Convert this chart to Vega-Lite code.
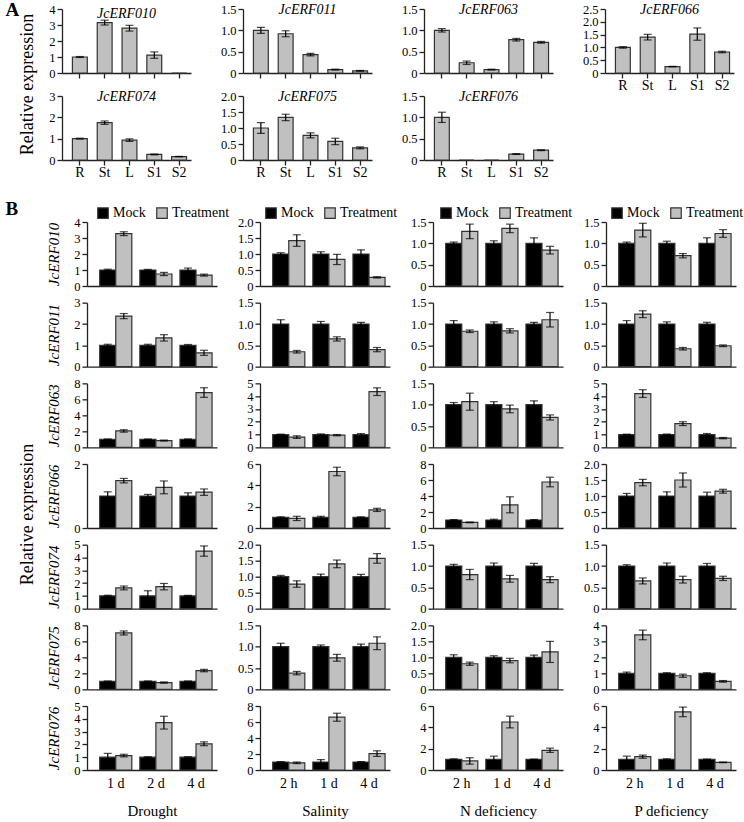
{
"$schema":"https://vega.github.io/schema/vega-lite/v6.json",
"padding":{"left":5,"top":0,"right":0,"bottom":0},
"config":{
 "view":{"stroke":null},
 "font":"Liberation Serif",
 "range":{"category":["#000000","#c0c0c0"]},
 "title":{"font":"Liberation Serif","fontSize":14,"fontStyle":"italic","fontWeight":"normal","offset":-14,"frame":"group","anchor":"middle","color":"#000"},
 "axis":{"labelFont":"Liberation Serif","titleFont":"Liberation Serif","labelColor":"#000","titleColor":"#000","titleFontWeight":"normal","domainColor":"#222","tickColor":"#222","domainWidth":1.3,"tickWidth":1.3,"grid":false,"tickSize":5},
 "axisY":{"labelFontSize":12.5,"labelPadding":2,"labelOverlap":false,"labelFlush":false},
 "axisX":{"labelFontSize":14,"labelAngle":0,"labelPadding":0},
 "legend":{"orient":"none","direction":"horizontal","symbolType":"square","symbolSize":110,"labelFont":"Liberation Serif","labelFontSize":14,"labelColor":"#000","symbolStrokeColor":"#333","symbolStrokeWidth":1.2,"columnPadding":8,"labelOffset":3,"symbolOpacity":1}
},
"datasets":{
"tis":[
{"g":"JcERF010","p":"R","v":1,"e":0.03},{"g":"JcERF010","p":"St","v":3.15,"e":0.15},{"g":"JcERF010","p":"L","v":2.8,"e":0.18},{"g":"JcERF010","p":"S1","v":1.12,"e":0.2},{"g":"JcERF010","p":"S2","v":0,"e":0},
{"g":"JcERF011","p":"R","v":1,"e":0.07},{"g":"JcERF011","p":"St","v":0.92,"e":0.07},{"g":"JcERF011","p":"L","v":0.43,"e":0.03},{"g":"JcERF011","p":"S1","v":0.08,"e":0.01},{"g":"JcERF011","p":"S2","v":0.05,"e":0.01},
{"g":"JcERF063","p":"R","v":1,"e":0.04},{"g":"JcERF063","p":"St","v":0.24,"e":0.04},{"g":"JcERF063","p":"L","v":0.08,"e":0.01},{"g":"JcERF063","p":"S1","v":0.78,"e":0.03},{"g":"JcERF063","p":"S2","v":0.72,"e":0.02},
{"g":"JcERF066","p":"R","v":1,"e":0.03},{"g":"JcERF066","p":"St","v":1.4,"e":0.11},{"g":"JcERF066","p":"L","v":0.25,"e":0.01},{"g":"JcERF066","p":"S1","v":1.52,"e":0.24},{"g":"JcERF066","p":"S2","v":0.82,"e":0.03},
{"g":"JcERF074","p":"R","v":1,"e":0.02},{"g":"JcERF074","p":"St","v":1.75,"e":0.08},{"g":"JcERF074","p":"L","v":0.93,"e":0.06},{"g":"JcERF074","p":"S1","v":0.26,"e":0.02},{"g":"JcERF074","p":"S2","v":0.16,"e":0.01},
{"g":"JcERF075","p":"R","v":1,"e":0.17},{"g":"JcERF075","p":"St","v":1.33,"e":0.1},{"g":"JcERF075","p":"L","v":0.77,"e":0.08},{"g":"JcERF075","p":"S1","v":0.58,"e":0.1},{"g":"JcERF075","p":"S2","v":0.38,"e":0.03},
{"g":"JcERF076","p":"R","v":1,"e":0.12},{"g":"JcERF076","p":"St","v":0,"e":0},{"g":"JcERF076","p":"L","v":0,"e":0},{"g":"JcERF076","p":"S1","v":0.14,"e":0.01},{"g":"JcERF076","p":"S2","v":0.23,"e":0.01}
],
"str":[
{"g":"JcERF010","s":"Drought","t":"1 d","c":"Mock","v":1,"e":0.05},{"g":"JcERF010","s":"Drought","t":"2 d","c":"Mock","v":1,"e":0.04},{"g":"JcERF010","s":"Drought","t":"4 d","c":"Mock","v":1,"e":0.12},
{"g":"JcERF010","s":"Drought","t":"1 d","c":"Treatment","v":3.27,"e":0.12},{"g":"JcERF010","s":"Drought","t":"2 d","c":"Treatment","v":0.75,"e":0.1},{"g":"JcERF010","s":"Drought","t":"4 d","c":"Treatment","v":0.68,"e":0.06},
{"g":"JcERF010","s":"Salinity","t":"2 h","c":"Mock","v":1,"e":0.04},{"g":"JcERF010","s":"Salinity","t":"1 d","c":"Mock","v":1,"e":0.07},{"g":"JcERF010","s":"Salinity","t":"4 d","c":"Mock","v":1,"e":0.13},
{"g":"JcERF010","s":"Salinity","t":"2 h","c":"Treatment","v":1.42,"e":0.18},{"g":"JcERF010","s":"Salinity","t":"1 d","c":"Treatment","v":0.83,"e":0.16},{"g":"JcERF010","s":"Salinity","t":"4 d","c":"Treatment","v":0.27,"e":0.02},
{"g":"JcERF010","s":"N deficiency","t":"2 h","c":"Mock","v":1,"e":0.03},{"g":"JcERF010","s":"N deficiency","t":"1 d","c":"Mock","v":1,"e":0.06},{"g":"JcERF010","s":"N deficiency","t":"4 d","c":"Mock","v":1,"e":0.13},
{"g":"JcERF010","s":"N deficiency","t":"2 h","c":"Treatment","v":1.28,"e":0.17},{"g":"JcERF010","s":"N deficiency","t":"1 d","c":"Treatment","v":1.35,"e":0.1},{"g":"JcERF010","s":"N deficiency","t":"4 d","c":"Treatment","v":0.84,"e":0.09},
{"g":"JcERF010","s":"P deficiency","t":"2 h","c":"Mock","v":1,"e":0.03},{"g":"JcERF010","s":"P deficiency","t":"1 d","c":"Mock","v":1,"e":0.05},{"g":"JcERF010","s":"P deficiency","t":"4 d","c":"Mock","v":1,"e":0.13},
{"g":"JcERF010","s":"P deficiency","t":"2 h","c":"Treatment","v":1.31,"e":0.16},{"g":"JcERF010","s":"P deficiency","t":"1 d","c":"Treatment","v":0.71,"e":0.05},{"g":"JcERF010","s":"P deficiency","t":"4 d","c":"Treatment","v":1.23,"e":0.09},
{"g":"JcERF011","s":"Drought","t":"1 d","c":"Mock","v":1,"e":0.05},{"g":"JcERF011","s":"Drought","t":"2 d","c":"Mock","v":1,"e":0.05},{"g":"JcERF011","s":"Drought","t":"4 d","c":"Mock","v":1,"e":0.04},
{"g":"JcERF011","s":"Drought","t":"1 d","c":"Treatment","v":2.37,"e":0.12},{"g":"JcERF011","s":"Drought","t":"2 d","c":"Treatment","v":1.35,"e":0.15},{"g":"JcERF011","s":"Drought","t":"4 d","c":"Treatment","v":0.65,"e":0.12},
{"g":"JcERF011","s":"Salinity","t":"2 h","c":"Mock","v":1,"e":0.1},{"g":"JcERF011","s":"Salinity","t":"1 d","c":"Mock","v":1,"e":0.06},{"g":"JcERF011","s":"Salinity","t":"4 d","c":"Mock","v":1,"e":0.04},
{"g":"JcERF011","s":"Salinity","t":"2 h","c":"Treatment","v":0.35,"e":0.03},{"g":"JcERF011","s":"Salinity","t":"1 d","c":"Treatment","v":0.65,"e":0.05},{"g":"JcERF011","s":"Salinity","t":"4 d","c":"Treatment","v":0.4,"e":0.05},
{"g":"JcERF011","s":"N deficiency","t":"2 h","c":"Mock","v":1,"e":0.08},{"g":"JcERF011","s":"N deficiency","t":"1 d","c":"Mock","v":1,"e":0.05},{"g":"JcERF011","s":"N deficiency","t":"4 d","c":"Mock","v":1,"e":0.04},
{"g":"JcERF011","s":"N deficiency","t":"2 h","c":"Treatment","v":0.83,"e":0.03},{"g":"JcERF011","s":"N deficiency","t":"1 d","c":"Treatment","v":0.84,"e":0.05},{"g":"JcERF011","s":"N deficiency","t":"4 d","c":"Treatment","v":1.1,"e":0.17},
{"g":"JcERF011","s":"P deficiency","t":"2 h","c":"Mock","v":1,"e":0.08},{"g":"JcERF011","s":"P deficiency","t":"1 d","c":"Mock","v":1,"e":0.05},{"g":"JcERF011","s":"P deficiency","t":"4 d","c":"Mock","v":1,"e":0.04},
{"g":"JcERF011","s":"P deficiency","t":"2 h","c":"Treatment","v":1.23,"e":0.08},{"g":"JcERF011","s":"P deficiency","t":"1 d","c":"Treatment","v":0.42,"e":0.03},{"g":"JcERF011","s":"P deficiency","t":"4 d","c":"Treatment","v":0.49,"e":0.02},
{"g":"JcERF063","s":"Drought","t":"1 d","c":"Mock","v":1,"e":0.05},{"g":"JcERF063","s":"Drought","t":"2 d","c":"Mock","v":1,"e":0.04},{"g":"JcERF063","s":"Drought","t":"4 d","c":"Mock","v":1,"e":0.05},
{"g":"JcERF063","s":"Drought","t":"1 d","c":"Treatment","v":2.05,"e":0.15},{"g":"JcERF063","s":"Drought","t":"2 d","c":"Treatment","v":0.85,"e":0.06},{"g":"JcERF063","s":"Drought","t":"4 d","c":"Treatment","v":6.85,"e":0.6},
{"g":"JcERF063","s":"Salinity","t":"2 h","c":"Mock","v":1,"e":0.03},{"g":"JcERF063","s":"Salinity","t":"1 d","c":"Mock","v":1,"e":0.05},{"g":"JcERF063","s":"Salinity","t":"4 d","c":"Mock","v":1,"e":0.08},
{"g":"JcERF063","s":"Salinity","t":"2 h","c":"Treatment","v":0.8,"e":0.1},{"g":"JcERF063","s":"Salinity","t":"1 d","c":"Treatment","v":0.95,"e":0.05},{"g":"JcERF063","s":"Salinity","t":"4 d","c":"Treatment","v":4.35,"e":0.3},
{"g":"JcERF063","s":"N deficiency","t":"2 h","c":"Mock","v":1,"e":0.05},{"g":"JcERF063","s":"N deficiency","t":"1 d","c":"Mock","v":1,"e":0.07},{"g":"JcERF063","s":"N deficiency","t":"4 d","c":"Mock","v":1,"e":0.09},
{"g":"JcERF063","s":"N deficiency","t":"2 h","c":"Treatment","v":1.07,"e":0.2},{"g":"JcERF063","s":"N deficiency","t":"1 d","c":"Treatment","v":0.9,"e":0.09},{"g":"JcERF063","s":"N deficiency","t":"4 d","c":"Treatment","v":0.7,"e":0.06},
{"g":"JcERF063","s":"P deficiency","t":"2 h","c":"Mock","v":1,"e":0.03},{"g":"JcERF063","s":"P deficiency","t":"1 d","c":"Mock","v":1,"e":0.04},{"g":"JcERF063","s":"P deficiency","t":"4 d","c":"Mock","v":1,"e":0.08},
{"g":"JcERF063","s":"P deficiency","t":"2 h","c":"Treatment","v":4.2,"e":0.3},{"g":"JcERF063","s":"P deficiency","t":"1 d","c":"Treatment","v":1.85,"e":0.15},{"g":"JcERF063","s":"P deficiency","t":"4 d","c":"Treatment","v":0.72,"e":0.05},
{"g":"JcERF066","s":"Drought","t":"1 d","c":"Mock","v":1,"e":0.13},{"g":"JcERF066","s":"Drought","t":"2 d","c":"Mock","v":1,"e":0.05},{"g":"JcERF066","s":"Drought","t":"4 d","c":"Mock","v":1,"e":0.1},
{"g":"JcERF066","s":"Drought","t":"1 d","c":"Treatment","v":1.48,"e":0.07},{"g":"JcERF066","s":"Drought","t":"2 d","c":"Treatment","v":1.27,"e":0.2},{"g":"JcERF066","s":"Drought","t":"4 d","c":"Treatment","v":1.12,"e":0.1},
{"g":"JcERF066","s":"Salinity","t":"2 h","c":"Mock","v":1,"e":0.05},{"g":"JcERF066","s":"Salinity","t":"1 d","c":"Mock","v":1,"e":0.1},{"g":"JcERF066","s":"Salinity","t":"4 d","c":"Mock","v":1,"e":0.05},
{"g":"JcERF066","s":"Salinity","t":"2 h","c":"Treatment","v":0.9,"e":0.2},{"g":"JcERF066","s":"Salinity","t":"1 d","c":"Treatment","v":5.3,"e":0.4},{"g":"JcERF066","s":"Salinity","t":"4 d","c":"Treatment","v":1.7,"e":0.15},
{"g":"JcERF066","s":"N deficiency","t":"2 h","c":"Mock","v":1,"e":0.05},{"g":"JcERF066","s":"N deficiency","t":"1 d","c":"Mock","v":1,"e":0.1},{"g":"JcERF066","s":"N deficiency","t":"4 d","c":"Mock","v":1,"e":0.05},
{"g":"JcERF066","s":"N deficiency","t":"2 h","c":"Treatment","v":0.7,"e":0.05},{"g":"JcERF066","s":"N deficiency","t":"1 d","c":"Treatment","v":2.9,"e":1.0},{"g":"JcERF066","s":"N deficiency","t":"4 d","c":"Treatment","v":5.75,"e":0.6},
{"g":"JcERF066","s":"P deficiency","t":"2 h","c":"Mock","v":1,"e":0.08},{"g":"JcERF066","s":"P deficiency","t":"1 d","c":"Mock","v":1,"e":0.13},{"g":"JcERF066","s":"P deficiency","t":"4 d","c":"Mock","v":1,"e":0.12},
{"g":"JcERF066","s":"P deficiency","t":"2 h","c":"Treatment","v":1.42,"e":0.1},{"g":"JcERF066","s":"P deficiency","t":"1 d","c":"Treatment","v":1.5,"e":0.22},{"g":"JcERF066","s":"P deficiency","t":"4 d","c":"Treatment","v":1.15,"e":0.06},
{"g":"JcERF074","s":"Drought","t":"1 d","c":"Mock","v":1,"e":0.05},{"g":"JcERF074","s":"Drought","t":"2 d","c":"Mock","v":1,"e":0.4},{"g":"JcERF074","s":"Drought","t":"4 d","c":"Mock","v":1,"e":0.04},
{"g":"JcERF074","s":"Drought","t":"1 d","c":"Treatment","v":1.62,"e":0.15},{"g":"JcERF074","s":"Drought","t":"2 d","c":"Treatment","v":1.72,"e":0.25},{"g":"JcERF074","s":"Drought","t":"4 d","c":"Treatment","v":4.5,"e":0.4},
{"g":"JcERF074","s":"Salinity","t":"2 h","c":"Mock","v":1,"e":0.04},{"g":"JcERF074","s":"Salinity","t":"1 d","c":"Mock","v":1,"e":0.08},{"g":"JcERF074","s":"Salinity","t":"4 d","c":"Mock","v":1,"e":0.07},
{"g":"JcERF074","s":"Salinity","t":"2 h","c":"Treatment","v":0.77,"e":0.1},{"g":"JcERF074","s":"Salinity","t":"1 d","c":"Treatment","v":1.4,"e":0.12},{"g":"JcERF074","s":"Salinity","t":"4 d","c":"Treatment","v":1.57,"e":0.15},
{"g":"JcERF074","s":"N deficiency","t":"2 h","c":"Mock","v":1,"e":0.04},{"g":"JcERF074","s":"N deficiency","t":"1 d","c":"Mock","v":1,"e":0.07},{"g":"JcERF074","s":"N deficiency","t":"4 d","c":"Mock","v":1,"e":0.06},
{"g":"JcERF074","s":"N deficiency","t":"2 h","c":"Treatment","v":0.8,"e":0.12},{"g":"JcERF074","s":"N deficiency","t":"1 d","c":"Treatment","v":0.7,"e":0.08},{"g":"JcERF074","s":"N deficiency","t":"4 d","c":"Treatment","v":0.68,"e":0.07},
{"g":"JcERF074","s":"P deficiency","t":"2 h","c":"Mock","v":1,"e":0.03},{"g":"JcERF074","s":"P deficiency","t":"1 d","c":"Mock","v":1,"e":0.07},{"g":"JcERF074","s":"P deficiency","t":"4 d","c":"Mock","v":1,"e":0.06},
{"g":"JcERF074","s":"P deficiency","t":"2 h","c":"Treatment","v":0.65,"e":0.07},{"g":"JcERF074","s":"P deficiency","t":"1 d","c":"Treatment","v":0.68,"e":0.08},{"g":"JcERF074","s":"P deficiency","t":"4 d","c":"Treatment","v":0.71,"e":0.05},
{"g":"JcERF075","s":"Drought","t":"1 d","c":"Mock","v":1,"e":0.05},{"g":"JcERF075","s":"Drought","t":"2 d","c":"Mock","v":1,"e":0.05},{"g":"JcERF075","s":"Drought","t":"4 d","c":"Mock","v":1,"e":0.05},
{"g":"JcERF075","s":"Drought","t":"1 d","c":"Treatment","v":7.05,"e":0.25},{"g":"JcERF075","s":"Drought","t":"2 d","c":"Treatment","v":0.85,"e":0.08},{"g":"JcERF075","s":"Drought","t":"4 d","c":"Treatment","v":2.35,"e":0.15},
{"g":"JcERF075","s":"Salinity","t":"2 h","c":"Mock","v":1,"e":0.08},{"g":"JcERF075","s":"Salinity","t":"1 d","c":"Mock","v":1,"e":0.04},{"g":"JcERF075","s":"Salinity","t":"4 d","c":"Mock","v":1,"e":0.06},
{"g":"JcERF075","s":"Salinity","t":"2 h","c":"Treatment","v":0.38,"e":0.04},{"g":"JcERF075","s":"Salinity","t":"1 d","c":"Treatment","v":0.74,"e":0.08},{"g":"JcERF075","s":"Salinity","t":"4 d","c":"Treatment","v":1.08,"e":0.15},
{"g":"JcERF075","s":"N deficiency","t":"2 h","c":"Mock","v":1,"e":0.08},{"g":"JcERF075","s":"N deficiency","t":"1 d","c":"Mock","v":1,"e":0.05},{"g":"JcERF075","s":"N deficiency","t":"4 d","c":"Mock","v":1,"e":0.07},
{"g":"JcERF075","s":"N deficiency","t":"2 h","c":"Treatment","v":0.8,"e":0.05},{"g":"JcERF075","s":"N deficiency","t":"1 d","c":"Treatment","v":0.9,"e":0.07},{"g":"JcERF075","s":"N deficiency","t":"4 d","c":"Treatment","v":1.17,"e":0.33},
{"g":"JcERF075","s":"P deficiency","t":"2 h","c":"Mock","v":1,"e":0.08},{"g":"JcERF075","s":"P deficiency","t":"1 d","c":"Mock","v":1,"e":0.04},{"g":"JcERF075","s":"P deficiency","t":"4 d","c":"Mock","v":1,"e":0.04},
{"g":"JcERF075","s":"P deficiency","t":"2 h","c":"Treatment","v":3.4,"e":0.3},{"g":"JcERF075","s":"P deficiency","t":"1 d","c":"Treatment","v":0.85,"e":0.1},{"g":"JcERF075","s":"P deficiency","t":"4 d","c":"Treatment","v":0.5,"e":0.05},
{"g":"JcERF076","s":"Drought","t":"1 d","c":"Mock","v":1,"e":0.3},{"g":"JcERF076","s":"Drought","t":"2 d","c":"Mock","v":1,"e":0.04},{"g":"JcERF076","s":"Drought","t":"4 d","c":"Mock","v":1,"e":0.04},
{"g":"JcERF076","s":"Drought","t":"1 d","c":"Treatment","v":1.13,"e":0.1},{"g":"JcERF076","s":"Drought","t":"2 d","c":"Treatment","v":3.7,"e":0.5},{"g":"JcERF076","s":"Drought","t":"4 d","c":"Treatment","v":2.05,"e":0.15},
{"g":"JcERF076","s":"Salinity","t":"2 h","c":"Mock","v":1,"e":0.05},{"g":"JcERF076","s":"Salinity","t":"1 d","c":"Mock","v":1,"e":0.3},{"g":"JcERF076","s":"Salinity","t":"4 d","c":"Mock","v":1,"e":0.05},
{"g":"JcERF076","s":"Salinity","t":"2 h","c":"Treatment","v":0.9,"e":0.1},{"g":"JcERF076","s":"Salinity","t":"1 d","c":"Treatment","v":6.6,"e":0.5},{"g":"JcERF076","s":"Salinity","t":"4 d","c":"Treatment","v":2.05,"e":0.35},
{"g":"JcERF076","s":"N deficiency","t":"2 h","c":"Mock","v":1,"e":0.05},{"g":"JcERF076","s":"N deficiency","t":"1 d","c":"Mock","v":1,"e":0.3},{"g":"JcERF076","s":"N deficiency","t":"4 d","c":"Mock","v":1,"e":0.03},
{"g":"JcERF076","s":"N deficiency","t":"2 h","c":"Treatment","v":0.85,"e":0.3},{"g":"JcERF076","s":"N deficiency","t":"1 d","c":"Treatment","v":4.5,"e":0.55},{"g":"JcERF076","s":"N deficiency","t":"4 d","c":"Treatment","v":1.85,"e":0.2},
{"g":"JcERF076","s":"P deficiency","t":"2 h","c":"Mock","v":1,"e":0.3},{"g":"JcERF076","s":"P deficiency","t":"1 d","c":"Mock","v":1,"e":0.05},{"g":"JcERF076","s":"P deficiency","t":"4 d","c":"Mock","v":1,"e":0.03},
{"g":"JcERF076","s":"P deficiency","t":"2 h","c":"Treatment","v":1.25,"e":0.15},{"g":"JcERF076","s":"P deficiency","t":"1 d","c":"Treatment","v":5.45,"e":0.45},{"g":"JcERF076","s":"P deficiency","t":"4 d","c":"Treatment","v":0.72,"e":0.03}
]
},
"columns":1,
"spacing":20,
"concat":[
{"columns":4,"spacing":{"row":23,"column":52},"bounds":"flush","concat":[
  {"width":129,"height":64,"data":{"name":"tis"},"title":{"text":"JcERF010","offset":-21},"transform":[{"filter":"datum.g=='JcERF010'"}],
   "encoding":{"x":{"field":"p","type":"nominal","sort":["R","St","L","S1","S2"],"scale":{"paddingInner":0.4,"paddingOuter":0.3,"align":0.7},"axis":{"labels":false,"title":"A","titleX":-57,"titleY":-64,"titleAlign":"left","titleBaseline":"middle","titleAngle":0,"titleFontSize":19,"titleFontWeight":"bold"}},
   "y":{"field":"v","type":"quantitative","scale":{"domain":[0,4],"nice":false},"axis":{"values":[0,1,2,3,4],"format":"d","title":"Relative expression","titleX":-35,"titleY":75,"titleAngle":270,"titleAlign":"center","titleBaseline":"middle","titleFontSize":18}}},
   "layer":[{"mark":{"type":"bar","fill":"#c0c0c0","stroke":"#333","strokeWidth":1.2}},{"transform":[{"filter":"datum.e>0"}],"mark":{"type":"errorbar","ticks":{"size":8},"color":"#000","thickness":1.2},"encoding":{"yError":{"field":"e"}}}]},
  {"width":129,"height":64,"data":{"name":"tis"},"title":"JcERF011","transform":[{"filter":"datum.g=='JcERF011'"}],
   "encoding":{"x":{"field":"p","type":"nominal","sort":["R","St","L","S1","S2"],"scale":{"paddingInner":0.4,"paddingOuter":0.3,"align":0.7},"axis":{"labels":false,"title":null}},
   "y":{"field":"v","type":"quantitative","scale":{"domain":[0,1.5],"nice":false},"axis":{"values":[0,0.5,1,1.5],"format":".1f","labelExpr":"datum.value==0?'0':datum.label","title":null}}},
   "layer":[{"mark":{"type":"bar","fill":"#c0c0c0","stroke":"#333","strokeWidth":1.2}},{"transform":[{"filter":"datum.e>0"}],"mark":{"type":"errorbar","ticks":{"size":8},"color":"#000","thickness":1.2},"encoding":{"yError":{"field":"e"}}}]},
  {"width":129,"height":64,"data":{"name":"tis"},"title":"JcERF063","transform":[{"filter":"datum.g=='JcERF063'"}],
   "encoding":{"x":{"field":"p","type":"nominal","sort":["R","St","L","S1","S2"],"scale":{"paddingInner":0.4,"paddingOuter":0.3,"align":0.7},"axis":{"labels":false,"title":null}},
   "y":{"field":"v","type":"quantitative","scale":{"domain":[0,1.5],"nice":false},"axis":{"values":[0,0.5,1,1.5],"format":".1f","labelExpr":"datum.value==0?'0':datum.label","title":null}}},
   "layer":[{"mark":{"type":"bar","fill":"#c0c0c0","stroke":"#333","strokeWidth":1.2}},{"transform":[{"filter":"datum.e>0"}],"mark":{"type":"errorbar","ticks":{"size":8},"color":"#000","thickness":1.2},"encoding":{"yError":{"field":"e"}}}]},
  {"width":129,"height":64,"data":{"name":"tis"},"title":"JcERF066","transform":[{"filter":"datum.g=='JcERF066'"}],
   "encoding":{"x":{"field":"p","type":"nominal","sort":["R","St","L","S1","S2"],"scale":{"paddingInner":0.4,"paddingOuter":0.3,"align":0.7},"axis":{"title":null}},
   "y":{"field":"v","type":"quantitative","scale":{"domain":[0,2.5],"nice":false},"axis":{"values":[0,0.5,1,1.5,2,2.5],"format":".1f","labelExpr":"datum.value==0?'0':datum.label","title":null}}},
   "layer":[{"mark":{"type":"bar","fill":"#c0c0c0","stroke":"#333","strokeWidth":1.2}},{"transform":[{"filter":"datum.e>0"}],"mark":{"type":"errorbar","ticks":{"size":8},"color":"#000","thickness":1.2},"encoding":{"yError":{"field":"e"}}}]},
  {"width":129,"height":64,"data":{"name":"tis"},"title":"JcERF074","transform":[{"filter":"datum.g=='JcERF074'"}],
   "encoding":{"x":{"field":"p","type":"nominal","sort":["R","St","L","S1","S2"],"scale":{"paddingInner":0.4,"paddingOuter":0.3,"align":0.7},"axis":{"title":null}},
   "y":{"field":"v","type":"quantitative","scale":{"domain":[0,3],"nice":false},"axis":{"values":[0,1,2,3],"format":"d","title":null}}},
   "layer":[{"mark":{"type":"bar","fill":"#c0c0c0","stroke":"#333","strokeWidth":1.2}},{"transform":[{"filter":"datum.e>0"}],"mark":{"type":"errorbar","ticks":{"size":8},"color":"#000","thickness":1.2},"encoding":{"yError":{"field":"e"}}}]},
  {"width":129,"height":64,"data":{"name":"tis"},"title":"JcERF075","transform":[{"filter":"datum.g=='JcERF075'"}],
   "encoding":{"x":{"field":"p","type":"nominal","sort":["R","St","L","S1","S2"],"scale":{"paddingInner":0.4,"paddingOuter":0.3,"align":0.7},"axis":{"title":null}},
   "y":{"field":"v","type":"quantitative","scale":{"domain":[0,2],"nice":false},"axis":{"values":[0,0.5,1,1.5,2],"format":".1f","labelExpr":"datum.value==0?'0':datum.label","title":null}}},
   "layer":[{"mark":{"type":"bar","fill":"#c0c0c0","stroke":"#333","strokeWidth":1.2}},{"transform":[{"filter":"datum.e>0"}],"mark":{"type":"errorbar","ticks":{"size":8},"color":"#000","thickness":1.2},"encoding":{"yError":{"field":"e"}}}]},
  {"width":129,"height":64,"data":{"name":"tis"},"title":"JcERF076","transform":[{"filter":"datum.g=='JcERF076'"}],
   "encoding":{"x":{"field":"p","type":"nominal","sort":["R","St","L","S1","S2"],"scale":{"paddingInner":0.4,"paddingOuter":0.3,"align":0.7},"axis":{"title":null}},
   "y":{"field":"v","type":"quantitative","scale":{"domain":[0,1.5],"nice":false},"axis":{"values":[0,0.5,1,1.5],"format":".1f","labelExpr":"datum.value==0?'0':datum.label","title":null}}},
   "layer":[{"mark":{"type":"bar","fill":"#c0c0c0","stroke":"#333","strokeWidth":1.2}},{"transform":[{"filter":"datum.e>0"}],"mark":{"type":"errorbar","ticks":{"size":8},"color":"#000","thickness":1.2},"encoding":{"yError":{"field":"e"}}}]}
]},
{"columns":4,"spacing":{"row":16.67,"column":18},"bounds":"flush","resolve":{"scale":{"xOffset":"independent"},"legend":{"color":"independent"}},"concat":[
  {"width":155,"height":64,"data":{"name":"str"},"transform":[{"filter":"datum.g=='JcERF010'&&datum.s=='Drought'"}],"encoding":{"x":{"field":"t","type":"nominal","sort":["2 h","1 d","2 d","4 d"],"scale":{"range":[25,155],"paddingInner":0.2,"paddingOuter":0.22,"align":0.72},"axis":{"labels":false,"ticks":false,"title":"B","titleX":-57,"titleY":-78,"titleAlign":"left","titleBaseline":"middle","titleAngle":0,"titleFontSize":19,"titleFontWeight":"bold"}},"xOffset":{"field":"c","type":"nominal"},"y":{"field":"v","type":"quantitative","scale":{"domain":[0,4],"nice":false},"axis":{"offset":-25,"values":[0,1,2,3,4],"format":"d","title":"JcERF010","titleFontStyle":"italic","titleFontSize":15,"titleX":-34,"titleY":32,"titleAngle":270,"titleAlign":"center","titleBaseline":"middle"}}},"layer":[{"mark":{"type":"bar","stroke":"#333","strokeWidth":1.2},"encoding":{"color":{"field":"c","type":"nominal","legend":{"title":null,"legendX":34,"legendY":-16}}}},{"transform":[{"filter":"datum.e>0"}],"mark":{"type":"errorbar","ticks":{"size":8},"color":"#000","thickness":1.2},"encoding":{"yError":{"field":"e"}}}]},
  {"width":155,"height":64,"data":{"name":"str"},"transform":[{"filter":"datum.g=='JcERF010'&&datum.s=='Salinity'"}],"encoding":{"x":{"field":"t","type":"nominal","sort":["2 h","1 d","2 d","4 d"],"scale":{"range":[25,155],"paddingInner":0.2,"paddingOuter":0.22,"align":0.72},"axis":{"labels":false,"ticks":false,"title":null}},"xOffset":{"field":"c","type":"nominal"},"y":{"field":"v","type":"quantitative","scale":{"domain":[0,2],"nice":false},"axis":{"offset":-25,"values":[0,0.5,1,1.5,2],"format":".1f","labelExpr":"datum.value==0?'0':datum.label","title":null}}},"layer":[{"mark":{"type":"bar","stroke":"#333","strokeWidth":1.2},"encoding":{"color":{"field":"c","type":"nominal","legend":{"title":null,"legendX":29,"legendY":-16}}}},{"transform":[{"filter":"datum.e>0"}],"mark":{"type":"errorbar","ticks":{"size":8},"color":"#000","thickness":1.2},"encoding":{"yError":{"field":"e"}}}]},
  {"width":155,"height":64,"data":{"name":"str"},"transform":[{"filter":"datum.g=='JcERF010'&&datum.s=='N deficiency'"}],"encoding":{"x":{"field":"t","type":"nominal","sort":["2 h","1 d","2 d","4 d"],"scale":{"range":[25,155],"paddingInner":0.2,"paddingOuter":0.22,"align":0.72},"axis":{"labels":false,"ticks":false,"title":null}},"xOffset":{"field":"c","type":"nominal"},"y":{"field":"v","type":"quantitative","scale":{"domain":[0,1.5],"nice":false},"axis":{"offset":-25,"values":[0,0.5,1,1.5],"format":".1f","labelExpr":"datum.value==0?'0':datum.label","title":null}}},"layer":[{"mark":{"type":"bar","stroke":"#333","strokeWidth":1.2},"encoding":{"color":{"field":"c","type":"nominal","legend":{"title":null,"legendX":31,"legendY":-16}}}},{"transform":[{"filter":"datum.e>0"}],"mark":{"type":"errorbar","ticks":{"size":8},"color":"#000","thickness":1.2},"encoding":{"yError":{"field":"e"}}}]},
  {"width":155,"height":64,"data":{"name":"str"},"transform":[{"filter":"datum.g=='JcERF010'&&datum.s=='P deficiency'"}],"encoding":{"x":{"field":"t","type":"nominal","sort":["2 h","1 d","2 d","4 d"],"scale":{"range":[25,155],"paddingInner":0.2,"paddingOuter":0.22,"align":0.72},"axis":{"labels":false,"ticks":false,"title":null}},"xOffset":{"field":"c","type":"nominal"},"y":{"field":"v","type":"quantitative","scale":{"domain":[0,1.5],"nice":false},"axis":{"offset":-25,"values":[0,0.5,1,1.5],"format":".1f","labelExpr":"datum.value==0?'0':datum.label","title":null}}},"layer":[{"mark":{"type":"bar","stroke":"#333","strokeWidth":1.2},"encoding":{"color":{"field":"c","type":"nominal","legend":{"title":null,"legendX":29,"legendY":-16}}}},{"transform":[{"filter":"datum.e>0"}],"mark":{"type":"errorbar","ticks":{"size":8},"color":"#000","thickness":1.2},"encoding":{"yError":{"field":"e"}}}]},
  {"width":155,"height":64,"data":{"name":"str"},"transform":[{"filter":"datum.g=='JcERF011'&&datum.s=='Drought'"}],"encoding":{"x":{"field":"t","type":"nominal","sort":["2 h","1 d","2 d","4 d"],"scale":{"range":[25,155],"paddingInner":0.2,"paddingOuter":0.22,"align":0.72},"axis":{"labels":false,"ticks":false,"title":null}},"xOffset":{"field":"c","type":"nominal"},"y":{"field":"v","type":"quantitative","scale":{"domain":[0,3],"nice":false},"axis":{"offset":-25,"values":[0,1,2,3],"format":"d","title":"JcERF011","titleFontStyle":"italic","titleFontSize":15,"titleX":-34,"titleY":32,"titleAngle":270,"titleAlign":"center","titleBaseline":"middle"}}},"layer":[{"mark":{"type":"bar","stroke":"#333","strokeWidth":1.2},"encoding":{"color":{"field":"c","type":"nominal","legend":null}}},{"transform":[{"filter":"datum.e>0"}],"mark":{"type":"errorbar","ticks":{"size":8},"color":"#000","thickness":1.2},"encoding":{"yError":{"field":"e"}}}]},
  {"width":155,"height":64,"data":{"name":"str"},"transform":[{"filter":"datum.g=='JcERF011'&&datum.s=='Salinity'"}],"encoding":{"x":{"field":"t","type":"nominal","sort":["2 h","1 d","2 d","4 d"],"scale":{"range":[25,155],"paddingInner":0.2,"paddingOuter":0.22,"align":0.72},"axis":{"labels":false,"ticks":false,"title":null}},"xOffset":{"field":"c","type":"nominal"},"y":{"field":"v","type":"quantitative","scale":{"domain":[0,1.5],"nice":false},"axis":{"offset":-25,"values":[0,0.5,1,1.5],"format":".1f","labelExpr":"datum.value==0?'0':datum.label","title":null}}},"layer":[{"mark":{"type":"bar","stroke":"#333","strokeWidth":1.2},"encoding":{"color":{"field":"c","type":"nominal","legend":null}}},{"transform":[{"filter":"datum.e>0"}],"mark":{"type":"errorbar","ticks":{"size":8},"color":"#000","thickness":1.2},"encoding":{"yError":{"field":"e"}}}]},
  {"width":155,"height":64,"data":{"name":"str"},"transform":[{"filter":"datum.g=='JcERF011'&&datum.s=='N deficiency'"}],"encoding":{"x":{"field":"t","type":"nominal","sort":["2 h","1 d","2 d","4 d"],"scale":{"range":[25,155],"paddingInner":0.2,"paddingOuter":0.22,"align":0.72},"axis":{"labels":false,"ticks":false,"title":null}},"xOffset":{"field":"c","type":"nominal"},"y":{"field":"v","type":"quantitative","scale":{"domain":[0,1.5],"nice":false},"axis":{"offset":-25,"values":[0,0.5,1,1.5],"format":".1f","labelExpr":"datum.value==0?'0':datum.label","title":null}}},"layer":[{"mark":{"type":"bar","stroke":"#333","strokeWidth":1.2},"encoding":{"color":{"field":"c","type":"nominal","legend":null}}},{"transform":[{"filter":"datum.e>0"}],"mark":{"type":"errorbar","ticks":{"size":8},"color":"#000","thickness":1.2},"encoding":{"yError":{"field":"e"}}}]},
  {"width":155,"height":64,"data":{"name":"str"},"transform":[{"filter":"datum.g=='JcERF011'&&datum.s=='P deficiency'"}],"encoding":{"x":{"field":"t","type":"nominal","sort":["2 h","1 d","2 d","4 d"],"scale":{"range":[25,155],"paddingInner":0.2,"paddingOuter":0.22,"align":0.72},"axis":{"labels":false,"ticks":false,"title":null}},"xOffset":{"field":"c","type":"nominal"},"y":{"field":"v","type":"quantitative","scale":{"domain":[0,1.5],"nice":false},"axis":{"offset":-25,"values":[0,0.5,1,1.5],"format":".1f","labelExpr":"datum.value==0?'0':datum.label","title":null}}},"layer":[{"mark":{"type":"bar","stroke":"#333","strokeWidth":1.2},"encoding":{"color":{"field":"c","type":"nominal","legend":null}}},{"transform":[{"filter":"datum.e>0"}],"mark":{"type":"errorbar","ticks":{"size":8},"color":"#000","thickness":1.2},"encoding":{"yError":{"field":"e"}}}]},
  {"width":155,"height":64,"data":{"name":"str"},"transform":[{"filter":"datum.g=='JcERF063'&&datum.s=='Drought'"}],"encoding":{"x":{"field":"t","type":"nominal","sort":["2 h","1 d","2 d","4 d"],"scale":{"range":[25,155],"paddingInner":0.2,"paddingOuter":0.22,"align":0.72},"axis":{"labels":false,"ticks":false,"title":null}},"xOffset":{"field":"c","type":"nominal"},"y":{"field":"v","type":"quantitative","scale":{"domain":[0,8],"nice":false},"axis":{"offset":-25,"values":[0,2,4,6,8],"format":"d","title":"JcERF063","titleFontStyle":"italic","titleFontSize":15,"titleX":-34,"titleY":32,"titleAngle":270,"titleAlign":"center","titleBaseline":"middle"}}},"layer":[{"mark":{"type":"bar","stroke":"#333","strokeWidth":1.2},"encoding":{"color":{"field":"c","type":"nominal","legend":null}}},{"transform":[{"filter":"datum.e>0"}],"mark":{"type":"errorbar","ticks":{"size":8},"color":"#000","thickness":1.2},"encoding":{"yError":{"field":"e"}}}]},
  {"width":155,"height":64,"data":{"name":"str"},"transform":[{"filter":"datum.g=='JcERF063'&&datum.s=='Salinity'"}],"encoding":{"x":{"field":"t","type":"nominal","sort":["2 h","1 d","2 d","4 d"],"scale":{"range":[25,155],"paddingInner":0.2,"paddingOuter":0.22,"align":0.72},"axis":{"labels":false,"ticks":false,"title":null}},"xOffset":{"field":"c","type":"nominal"},"y":{"field":"v","type":"quantitative","scale":{"domain":[0,5],"nice":false},"axis":{"offset":-25,"values":[0,1,2,3,4,5],"format":"d","title":null}}},"layer":[{"mark":{"type":"bar","stroke":"#333","strokeWidth":1.2},"encoding":{"color":{"field":"c","type":"nominal","legend":null}}},{"transform":[{"filter":"datum.e>0"}],"mark":{"type":"errorbar","ticks":{"size":8},"color":"#000","thickness":1.2},"encoding":{"yError":{"field":"e"}}}]},
  {"width":155,"height":64,"data":{"name":"str"},"transform":[{"filter":"datum.g=='JcERF063'&&datum.s=='N deficiency'"}],"encoding":{"x":{"field":"t","type":"nominal","sort":["2 h","1 d","2 d","4 d"],"scale":{"range":[25,155],"paddingInner":0.2,"paddingOuter":0.22,"align":0.72},"axis":{"labels":false,"ticks":false,"title":null}},"xOffset":{"field":"c","type":"nominal"},"y":{"field":"v","type":"quantitative","scale":{"domain":[0,1.5],"nice":false},"axis":{"offset":-25,"values":[0,0.5,1,1.5],"format":".1f","labelExpr":"datum.value==0?'0':datum.label","title":null}}},"layer":[{"mark":{"type":"bar","stroke":"#333","strokeWidth":1.2},"encoding":{"color":{"field":"c","type":"nominal","legend":null}}},{"transform":[{"filter":"datum.e>0"}],"mark":{"type":"errorbar","ticks":{"size":8},"color":"#000","thickness":1.2},"encoding":{"yError":{"field":"e"}}}]},
  {"width":155,"height":64,"data":{"name":"str"},"transform":[{"filter":"datum.g=='JcERF063'&&datum.s=='P deficiency'"}],"encoding":{"x":{"field":"t","type":"nominal","sort":["2 h","1 d","2 d","4 d"],"scale":{"range":[25,155],"paddingInner":0.2,"paddingOuter":0.22,"align":0.72},"axis":{"labels":false,"ticks":false,"title":null}},"xOffset":{"field":"c","type":"nominal"},"y":{"field":"v","type":"quantitative","scale":{"domain":[0,5],"nice":false},"axis":{"offset":-25,"values":[0,1,2,3,4,5],"format":"d","title":null}}},"layer":[{"mark":{"type":"bar","stroke":"#333","strokeWidth":1.2},"encoding":{"color":{"field":"c","type":"nominal","legend":null}}},{"transform":[{"filter":"datum.e>0"}],"mark":{"type":"errorbar","ticks":{"size":8},"color":"#000","thickness":1.2},"encoding":{"yError":{"field":"e"}}}]},
  {"width":155,"height":64,"data":{"name":"str"},"transform":[{"filter":"datum.g=='JcERF066'&&datum.s=='Drought'"}],"encoding":{"x":{"field":"t","type":"nominal","sort":["2 h","1 d","2 d","4 d"],"scale":{"range":[25,155],"paddingInner":0.2,"paddingOuter":0.22,"align":0.72},"axis":{"labels":false,"ticks":false,"title":"Relative expression","titleX":-35,"titleY":-14,"titleAngle":270,"titleAlign":"center","titleBaseline":"middle","titleFontSize":18}},"xOffset":{"field":"c","type":"nominal"},"y":{"field":"v","type":"quantitative","scale":{"domain":[0,2],"nice":false},"axis":{"offset":-25,"values":[0,1,2],"format":"d","title":"JcERF066","titleFontStyle":"italic","titleFontSize":15,"titleX":-34,"titleY":32,"titleAngle":270,"titleAlign":"center","titleBaseline":"middle"}}},"layer":[{"mark":{"type":"bar","stroke":"#333","strokeWidth":1.2},"encoding":{"color":{"field":"c","type":"nominal","legend":null}}},{"transform":[{"filter":"datum.e>0"}],"mark":{"type":"errorbar","ticks":{"size":8},"color":"#000","thickness":1.2},"encoding":{"yError":{"field":"e"}}}]},
  {"width":155,"height":64,"data":{"name":"str"},"transform":[{"filter":"datum.g=='JcERF066'&&datum.s=='Salinity'"}],"encoding":{"x":{"field":"t","type":"nominal","sort":["2 h","1 d","2 d","4 d"],"scale":{"range":[25,155],"paddingInner":0.2,"paddingOuter":0.22,"align":0.72},"axis":{"labels":false,"ticks":false,"title":null}},"xOffset":{"field":"c","type":"nominal"},"y":{"field":"v","type":"quantitative","scale":{"domain":[0,6],"nice":false},"axis":{"offset":-25,"values":[0,2,4,6],"format":"d","title":null}}},"layer":[{"mark":{"type":"bar","stroke":"#333","strokeWidth":1.2},"encoding":{"color":{"field":"c","type":"nominal","legend":null}}},{"transform":[{"filter":"datum.e>0"}],"mark":{"type":"errorbar","ticks":{"size":8},"color":"#000","thickness":1.2},"encoding":{"yError":{"field":"e"}}}]},
  {"width":155,"height":64,"data":{"name":"str"},"transform":[{"filter":"datum.g=='JcERF066'&&datum.s=='N deficiency'"}],"encoding":{"x":{"field":"t","type":"nominal","sort":["2 h","1 d","2 d","4 d"],"scale":{"range":[25,155],"paddingInner":0.2,"paddingOuter":0.22,"align":0.72},"axis":{"labels":false,"ticks":false,"title":null}},"xOffset":{"field":"c","type":"nominal"},"y":{"field":"v","type":"quantitative","scale":{"domain":[0,8],"nice":false},"axis":{"offset":-25,"values":[0,2,4,6,8],"format":"d","title":null}}},"layer":[{"mark":{"type":"bar","stroke":"#333","strokeWidth":1.2},"encoding":{"color":{"field":"c","type":"nominal","legend":null}}},{"transform":[{"filter":"datum.e>0"}],"mark":{"type":"errorbar","ticks":{"size":8},"color":"#000","thickness":1.2},"encoding":{"yError":{"field":"e"}}}]},
  {"width":155,"height":64,"data":{"name":"str"},"transform":[{"filter":"datum.g=='JcERF066'&&datum.s=='P deficiency'"}],"encoding":{"x":{"field":"t","type":"nominal","sort":["2 h","1 d","2 d","4 d"],"scale":{"range":[25,155],"paddingInner":0.2,"paddingOuter":0.22,"align":0.72},"axis":{"labels":false,"ticks":false,"title":null}},"xOffset":{"field":"c","type":"nominal"},"y":{"field":"v","type":"quantitative","scale":{"domain":[0,2],"nice":false},"axis":{"offset":-25,"values":[0,0.5,1,1.5,2],"format":".1f","labelExpr":"datum.value==0?'0':datum.label","title":null}}},"layer":[{"mark":{"type":"bar","stroke":"#333","strokeWidth":1.2},"encoding":{"color":{"field":"c","type":"nominal","legend":null}}},{"transform":[{"filter":"datum.e>0"}],"mark":{"type":"errorbar","ticks":{"size":8},"color":"#000","thickness":1.2},"encoding":{"yError":{"field":"e"}}}]},
  {"width":155,"height":64,"data":{"name":"str"},"transform":[{"filter":"datum.g=='JcERF074'&&datum.s=='Drought'"}],"encoding":{"x":{"field":"t","type":"nominal","sort":["2 h","1 d","2 d","4 d"],"scale":{"range":[25,155],"paddingInner":0.2,"paddingOuter":0.22,"align":0.72},"axis":{"labels":false,"ticks":false,"title":null}},"xOffset":{"field":"c","type":"nominal"},"y":{"field":"v","type":"quantitative","scale":{"domain":[0,5],"nice":false},"axis":{"offset":-25,"values":[0,1,2,3,4,5],"format":"d","title":"JcERF074","titleFontStyle":"italic","titleFontSize":15,"titleX":-34,"titleY":32,"titleAngle":270,"titleAlign":"center","titleBaseline":"middle"}}},"layer":[{"mark":{"type":"bar","stroke":"#333","strokeWidth":1.2},"encoding":{"color":{"field":"c","type":"nominal","legend":null}}},{"transform":[{"filter":"datum.e>0"}],"mark":{"type":"errorbar","ticks":{"size":8},"color":"#000","thickness":1.2},"encoding":{"yError":{"field":"e"}}}]},
  {"width":155,"height":64,"data":{"name":"str"},"transform":[{"filter":"datum.g=='JcERF074'&&datum.s=='Salinity'"}],"encoding":{"x":{"field":"t","type":"nominal","sort":["2 h","1 d","2 d","4 d"],"scale":{"range":[25,155],"paddingInner":0.2,"paddingOuter":0.22,"align":0.72},"axis":{"labels":false,"ticks":false,"title":null}},"xOffset":{"field":"c","type":"nominal"},"y":{"field":"v","type":"quantitative","scale":{"domain":[0,2],"nice":false},"axis":{"offset":-25,"values":[0,0.5,1,1.5,2],"format":".1f","labelExpr":"datum.value==0?'0':datum.label","title":null}}},"layer":[{"mark":{"type":"bar","stroke":"#333","strokeWidth":1.2},"encoding":{"color":{"field":"c","type":"nominal","legend":null}}},{"transform":[{"filter":"datum.e>0"}],"mark":{"type":"errorbar","ticks":{"size":8},"color":"#000","thickness":1.2},"encoding":{"yError":{"field":"e"}}}]},
  {"width":155,"height":64,"data":{"name":"str"},"transform":[{"filter":"datum.g=='JcERF074'&&datum.s=='N deficiency'"}],"encoding":{"x":{"field":"t","type":"nominal","sort":["2 h","1 d","2 d","4 d"],"scale":{"range":[25,155],"paddingInner":0.2,"paddingOuter":0.22,"align":0.72},"axis":{"labels":false,"ticks":false,"title":null}},"xOffset":{"field":"c","type":"nominal"},"y":{"field":"v","type":"quantitative","scale":{"domain":[0,1.5],"nice":false},"axis":{"offset":-25,"values":[0,0.5,1,1.5],"format":".1f","labelExpr":"datum.value==0?'0':datum.label","title":null}}},"layer":[{"mark":{"type":"bar","stroke":"#333","strokeWidth":1.2},"encoding":{"color":{"field":"c","type":"nominal","legend":null}}},{"transform":[{"filter":"datum.e>0"}],"mark":{"type":"errorbar","ticks":{"size":8},"color":"#000","thickness":1.2},"encoding":{"yError":{"field":"e"}}}]},
  {"width":155,"height":64,"data":{"name":"str"},"transform":[{"filter":"datum.g=='JcERF074'&&datum.s=='P deficiency'"}],"encoding":{"x":{"field":"t","type":"nominal","sort":["2 h","1 d","2 d","4 d"],"scale":{"range":[25,155],"paddingInner":0.2,"paddingOuter":0.22,"align":0.72},"axis":{"labels":false,"ticks":false,"title":null}},"xOffset":{"field":"c","type":"nominal"},"y":{"field":"v","type":"quantitative","scale":{"domain":[0,1.5],"nice":false},"axis":{"offset":-25,"values":[0,0.5,1,1.5],"format":".1f","labelExpr":"datum.value==0?'0':datum.label","title":null}}},"layer":[{"mark":{"type":"bar","stroke":"#333","strokeWidth":1.2},"encoding":{"color":{"field":"c","type":"nominal","legend":null}}},{"transform":[{"filter":"datum.e>0"}],"mark":{"type":"errorbar","ticks":{"size":8},"color":"#000","thickness":1.2},"encoding":{"yError":{"field":"e"}}}]},
  {"width":155,"height":64,"data":{"name":"str"},"transform":[{"filter":"datum.g=='JcERF075'&&datum.s=='Drought'"}],"encoding":{"x":{"field":"t","type":"nominal","sort":["2 h","1 d","2 d","4 d"],"scale":{"range":[25,155],"paddingInner":0.2,"paddingOuter":0.22,"align":0.72},"axis":{"labels":false,"ticks":false,"title":null}},"xOffset":{"field":"c","type":"nominal"},"y":{"field":"v","type":"quantitative","scale":{"domain":[0,8],"nice":false},"axis":{"offset":-25,"values":[0,2,4,6,8],"format":"d","title":"JcERF075","titleFontStyle":"italic","titleFontSize":15,"titleX":-34,"titleY":32,"titleAngle":270,"titleAlign":"center","titleBaseline":"middle"}}},"layer":[{"mark":{"type":"bar","stroke":"#333","strokeWidth":1.2},"encoding":{"color":{"field":"c","type":"nominal","legend":null}}},{"transform":[{"filter":"datum.e>0"}],"mark":{"type":"errorbar","ticks":{"size":8},"color":"#000","thickness":1.2},"encoding":{"yError":{"field":"e"}}}]},
  {"width":155,"height":64,"data":{"name":"str"},"transform":[{"filter":"datum.g=='JcERF075'&&datum.s=='Salinity'"}],"encoding":{"x":{"field":"t","type":"nominal","sort":["2 h","1 d","2 d","4 d"],"scale":{"range":[25,155],"paddingInner":0.2,"paddingOuter":0.22,"align":0.72},"axis":{"labels":false,"ticks":false,"title":null}},"xOffset":{"field":"c","type":"nominal"},"y":{"field":"v","type":"quantitative","scale":{"domain":[0,1.5],"nice":false},"axis":{"offset":-25,"values":[0,0.5,1,1.5],"format":".1f","labelExpr":"datum.value==0?'0':datum.label","title":null}}},"layer":[{"mark":{"type":"bar","stroke":"#333","strokeWidth":1.2},"encoding":{"color":{"field":"c","type":"nominal","legend":null}}},{"transform":[{"filter":"datum.e>0"}],"mark":{"type":"errorbar","ticks":{"size":8},"color":"#000","thickness":1.2},"encoding":{"yError":{"field":"e"}}}]},
  {"width":155,"height":64,"data":{"name":"str"},"transform":[{"filter":"datum.g=='JcERF075'&&datum.s=='N deficiency'"}],"encoding":{"x":{"field":"t","type":"nominal","sort":["2 h","1 d","2 d","4 d"],"scale":{"range":[25,155],"paddingInner":0.2,"paddingOuter":0.22,"align":0.72},"axis":{"labels":false,"ticks":false,"title":null}},"xOffset":{"field":"c","type":"nominal"},"y":{"field":"v","type":"quantitative","scale":{"domain":[0,2],"nice":false},"axis":{"offset":-25,"values":[0,0.5,1,1.5,2],"format":".1f","labelExpr":"datum.value==0?'0':datum.label","title":null}}},"layer":[{"mark":{"type":"bar","stroke":"#333","strokeWidth":1.2},"encoding":{"color":{"field":"c","type":"nominal","legend":null}}},{"transform":[{"filter":"datum.e>0"}],"mark":{"type":"errorbar","ticks":{"size":8},"color":"#000","thickness":1.2},"encoding":{"yError":{"field":"e"}}}]},
  {"width":155,"height":64,"data":{"name":"str"},"transform":[{"filter":"datum.g=='JcERF075'&&datum.s=='P deficiency'"}],"encoding":{"x":{"field":"t","type":"nominal","sort":["2 h","1 d","2 d","4 d"],"scale":{"range":[25,155],"paddingInner":0.2,"paddingOuter":0.22,"align":0.72},"axis":{"labels":false,"ticks":false,"title":null}},"xOffset":{"field":"c","type":"nominal"},"y":{"field":"v","type":"quantitative","scale":{"domain":[0,4],"nice":false},"axis":{"offset":-25,"values":[0,1,2,3,4],"format":"d","title":null}}},"layer":[{"mark":{"type":"bar","stroke":"#333","strokeWidth":1.2},"encoding":{"color":{"field":"c","type":"nominal","legend":null}}},{"transform":[{"filter":"datum.e>0"}],"mark":{"type":"errorbar","ticks":{"size":8},"color":"#000","thickness":1.2},"encoding":{"yError":{"field":"e"}}}]},
  {"width":155,"height":64,"data":{"name":"str"},"transform":[{"filter":"datum.g=='JcERF076'&&datum.s=='Drought'"}],"encoding":{"x":{"field":"t","type":"nominal","sort":["2 h","1 d","2 d","4 d"],"scale":{"range":[25,155],"paddingInner":0.2,"paddingOuter":0.22,"align":0.72},"axis":{"ticks":false,"tickSize":0,"labelPadding":6,"title":"Drought","titleFontSize":15,"titlePadding":13}},"xOffset":{"field":"c","type":"nominal"},"y":{"field":"v","type":"quantitative","scale":{"domain":[0,5],"nice":false},"axis":{"offset":-25,"values":[0,1,2,3,4,5],"format":"d","title":"JcERF076","titleFontStyle":"italic","titleFontSize":15,"titleX":-34,"titleY":32,"titleAngle":270,"titleAlign":"center","titleBaseline":"middle"}}},"layer":[{"mark":{"type":"bar","stroke":"#333","strokeWidth":1.2},"encoding":{"color":{"field":"c","type":"nominal","legend":null}}},{"transform":[{"filter":"datum.e>0"}],"mark":{"type":"errorbar","ticks":{"size":8},"color":"#000","thickness":1.2},"encoding":{"yError":{"field":"e"}}}]},
  {"width":155,"height":64,"data":{"name":"str"},"transform":[{"filter":"datum.g=='JcERF076'&&datum.s=='Salinity'"}],"encoding":{"x":{"field":"t","type":"nominal","sort":["2 h","1 d","2 d","4 d"],"scale":{"range":[25,155],"paddingInner":0.2,"paddingOuter":0.22,"align":0.72},"axis":{"ticks":false,"tickSize":0,"labelPadding":6,"title":"Salinity","titleFontSize":15,"titlePadding":13}},"xOffset":{"field":"c","type":"nominal"},"y":{"field":"v","type":"quantitative","scale":{"domain":[0,8],"nice":false},"axis":{"offset":-25,"values":[0,2,4,6,8],"format":"d","title":null}}},"layer":[{"mark":{"type":"bar","stroke":"#333","strokeWidth":1.2},"encoding":{"color":{"field":"c","type":"nominal","legend":null}}},{"transform":[{"filter":"datum.e>0"}],"mark":{"type":"errorbar","ticks":{"size":8},"color":"#000","thickness":1.2},"encoding":{"yError":{"field":"e"}}}]},
  {"width":155,"height":64,"data":{"name":"str"},"transform":[{"filter":"datum.g=='JcERF076'&&datum.s=='N deficiency'"}],"encoding":{"x":{"field":"t","type":"nominal","sort":["2 h","1 d","2 d","4 d"],"scale":{"range":[25,155],"paddingInner":0.2,"paddingOuter":0.22,"align":0.72},"axis":{"ticks":false,"tickSize":0,"labelPadding":6,"title":"N deficiency","titleFontSize":15,"titlePadding":13}},"xOffset":{"field":"c","type":"nominal"},"y":{"field":"v","type":"quantitative","scale":{"domain":[0,6],"nice":false},"axis":{"offset":-25,"values":[0,2,4,6],"format":"d","title":null}}},"layer":[{"mark":{"type":"bar","stroke":"#333","strokeWidth":1.2},"encoding":{"color":{"field":"c","type":"nominal","legend":null}}},{"transform":[{"filter":"datum.e>0"}],"mark":{"type":"errorbar","ticks":{"size":8},"color":"#000","thickness":1.2},"encoding":{"yError":{"field":"e"}}}]},
  {"width":155,"height":64,"data":{"name":"str"},"transform":[{"filter":"datum.g=='JcERF076'&&datum.s=='P deficiency'"}],"encoding":{"x":{"field":"t","type":"nominal","sort":["2 h","1 d","2 d","4 d"],"scale":{"range":[25,155],"paddingInner":0.2,"paddingOuter":0.22,"align":0.72},"axis":{"ticks":false,"tickSize":0,"labelPadding":6,"title":"P deficiency","titleFontSize":15,"titlePadding":13}},"xOffset":{"field":"c","type":"nominal"},"y":{"field":"v","type":"quantitative","scale":{"domain":[0,6],"nice":false},"axis":{"offset":-25,"values":[0,2,4,6],"format":"d","title":null}}},"layer":[{"mark":{"type":"bar","stroke":"#333","strokeWidth":1.2},"encoding":{"color":{"field":"c","type":"nominal","legend":null}}},{"transform":[{"filter":"datum.e>0"}],"mark":{"type":"errorbar","ticks":{"size":8},"color":"#000","thickness":1.2},"encoding":{"yError":{"field":"e"}}}]}
]}
]
}
